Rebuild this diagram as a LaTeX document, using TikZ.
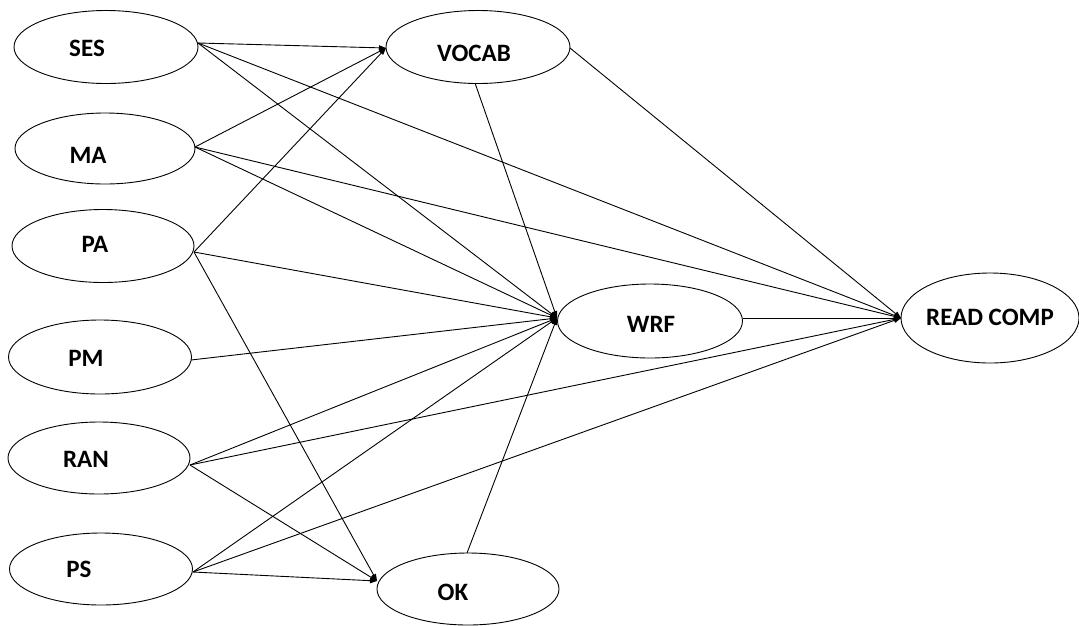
\documentclass[tikz,border=0pt]{standalone}
\usepackage{fontspec}
\setmainfont{Carlito}
\usetikzlibrary{shapes.geometric,arrows.meta}
\begin{document}
\begin{tikzpicture}[x=1pt,y=-1pt,
  var/.style={draw=black,line width=0.9pt,ellipse,inner sep=0pt},
  lbl/.style={font=\bfseries\fontsize{25}{25}\selectfont,inner sep=0pt},
  path/.style={draw=black,line width=0.9pt},
  arr/.style={path,-{Triangle[length=7pt,width=5pt]}}]
\useasboundingbox (0,0) rectangle (1079,625);
% ellipses
\node[var,minimum width=184pt,minimum height=73pt] (ses) at (106,47) {};
\node[var,minimum width=180pt,minimum height=71pt] (ma) at (105,148.5) {};
\node[var,minimum width=182pt,minimum height=73pt] (pa) at (103,246) {};
\node[var,minimum width=183pt,minimum height=74pt] (pm) at (100,357) {};
\node[var,minimum width=182pt,minimum height=72pt] (ran) at (99,458) {};
\node[var,minimum width=183pt,minimum height=72pt] (ps) at (101,569) {};
\node[var,minimum width=184pt,minimum height=73pt] (vocab) at (478,47) {};
\node[var,minimum width=185pt,minimum height=74pt] (wrf) at (650,321) {};
\node[var,minimum width=178pt,minimum height=90pt] (rc) at (990,318) {};
\node[var,minimum width=182pt,minimum height=72pt] (ok) at (468,589) {};
% labels
\node[lbl] (tses) at (87,48.5) {SES};
\node[lbl] (tma) at (88,155) {MA};
\node[lbl] (tpa) at (95,244.5) {PA};
\node[lbl] (tpm) at (86,358) {PM};
\node[lbl] (tran) at (86,459.5) {RAN};
\node[lbl] (tps) at (79,569.5) {PS};
\node[lbl] (tvocab) at (474,53) {VOCAB};
\node[lbl] (twrf) at (651,324) {WRF};
\node[lbl] (trc) at (990,317) {READ COMP};
\node[lbl] (tok) at (453,592) {OK};
% attachment points
\coordinate (sesE) at (198,43);
\coordinate (maE) at (195,147);
\coordinate (paE) at (194,252);
\coordinate (pmE) at (191,360);
\coordinate (ranE) at (190,465);
\coordinate (psE) at (193,572);
\coordinate (vocabW) at (386,48);
\coordinate (vocabE) at (570,48);
\coordinate (vocabS) at (475,83);
\coordinate (wrfW) at (557,318);
\coordinate (wrfE) at (743,318);
\coordinate (rcW) at (901,318);
\coordinate (okW) at (377,581);
\coordinate (okN) at (467,553);
% connectors
\draw[arr] (sesE) -- (vocabW);
\draw[arr] (sesE) -- (wrfW);
\draw[arr] (sesE) -- (rcW);
\draw[arr] (maE) -- (vocabW);
\draw[arr] (maE) -- (wrfW);
\draw[arr] (maE) -- (rcW);
\draw[arr] (paE) -- (vocabW);
\draw[arr] (paE) -- (wrfW);
\draw[arr] (paE) -- (okW);
\draw[arr] (pmE) -- (wrfW);
\draw[arr] (ranE) -- (wrfW);
\draw[arr] (ranE) -- (rcW);
\draw[arr] (ranE) -- (okW);
\draw[arr] (psE) -- (wrfW);
\draw[arr] (psE) -- (rcW);
\draw[arr] (psE) -- (okW);
\draw[arr] (vocabS) -- (wrfW);
\draw[arr] (vocabE) -- (rcW);
\draw[arr] (okN) -- (wrfW);
\draw[arr] (wrfE) -- (rcW);
\end{tikzpicture}
\end{document}
